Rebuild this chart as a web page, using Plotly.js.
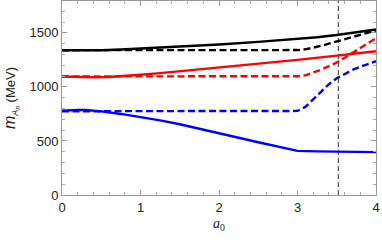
<!DOCTYPE html>
<html><head><meta charset="utf-8">
<script src="https://cdn.plot.ly/plotly-3.0.1.min.js"></script>
<style>html,body{margin:0;padding:0;background:#fff}#c{width:382px;height:242px}</style>
</head><body><div id="c"></div>
<script>
const xBlueSolid = [0,0.1,0.2,0.3,0.4,0.5,0.75,1,1.25,1.5,1.75,2,2.25,2.5,2.75,3,3.25,3.5,3.75,4];
const yBlueSolid = [780,786,788,786,781,774,750,722,690,655,615,572,530,488,447,408,404,401,399,397];
const xBlueDash = [0,1,2,2.9,3,3.1,3.2,3.3,3.4,3.5,3.6,3.7,3.8,3.9,4];
const yBlueDash = [775,775,775,775,778,815,882,958,1025,1080,1122,1157,1187,1213,1238];
const xRedSolid = [0,0.2,0.4,0.6,0.8,1,1.25,1.5,1.75,2,2.5,3,3.5,4];
const yRedSolid = [1097,1091,1089,1092,1100,1112,1128,1145,1162,1180,1215,1250,1290,1330];
const xRedDash = [0,1,2,2.9,3,3.1,3.2,3.3,3.4,3.5,3.6,3.7,3.8,3.9,4];
const yRedDash = [1097,1097,1097,1097,1099,1107,1130,1160,1192,1226,1270,1315,1360,1405,1450];
const xBlackSolid = [0,0.25,0.5,0.75,1,1.5,2,2.5,3,3.25,3.5,3.75,4];
const yBlackSolid = [1340,1337,1339,1346,1354,1372,1393,1417,1442,1460,1480,1505,1532];
const xBlackDash = [0,1,2,2.9,3,3.1,3.2,3.3,3.4,3.5,3.6,3.7,3.8,3.9,4];
const yBlackDash = [1340,1340,1340,1340,1341,1348,1362,1380,1400,1422,1442,1463,1483,1503,1522];
const xVline = [3.52,3.52];
const yVline = [0,1800];

const dashP = '7px,3.5px';
const traces = [
  {x:xVline,y:yVline,mode:'lines',line:{color:'#333',width:1,dash:'5px,3px'}},
  {x:xBlueSolid,y:yBlueSolid,mode:'lines',line:{color:'#0000ff',width:2.4}},
  {x:xBlueDash,y:yBlueDash,mode:'lines',line:{color:'#0000ff',width:2.4,dash:dashP}},
  {x:xRedSolid,y:yRedSolid,mode:'lines',line:{color:'#ff0000',width:2.4}},
  {x:xRedDash,y:yRedDash,mode:'lines',line:{color:'#ff0000',width:2.4,dash:dashP}},
  {x:xBlackSolid,y:yBlackSolid,mode:'lines',line:{color:'#000000',width:2.4}},
  {x:xBlackDash,y:yBlackDash,mode:'lines',line:{color:'#000000',width:2.4,dash:dashP}}
];
const ax = {showgrid:false,zeroline:false,showline:true,linecolor:'#999',linewidth:1,mirror:'allticks',
  ticks:'inside',ticklen:5,tickcolor:'#999',tickwidth:1,tickfont:{family:'Liberation Sans, Arial',size:13,color:'#222'}};
const layout = {
  width:382,height:242,margin:{l:62,r:6,t:1,b:47},showlegend:false,
  paper_bgcolor:'#fff',plot_bgcolor:'#fff',
  xaxis:Object.assign({},ax,{range:[0,4],tickvals:[0,1,2,3,4],
    minor:{dtick:0.2,tick0:0,ticks:'inside',ticklen:3,tickcolor:'#aaa',showgrid:false},
    title:{text:'<i>a</i><sub>0</sub>',font:{family:'Liberation Serif, Times New Roman',size:14,color:'#222'},standoff:4}}),
  yaxis:Object.assign({},ax,{range:[0,1795],tickvals:[0,500,1000,1500],
    minor:{dtick:100,tick0:0,ticks:'inside',ticklen:3,tickcolor:'#aaa',showgrid:false},
    title:{text:'<i><span style="font-size:16px">m</span></i><sub><i>A</i><sub><i>n</i></sub></sub> (MeV)',font:{family:'Liberation Sans, Arial',size:13,color:'#222'},standoff:10}})
};
Plotly.newPlot('c',traces,layout,{staticPlot:true,displayModeBar:false});
</script></body></html>
